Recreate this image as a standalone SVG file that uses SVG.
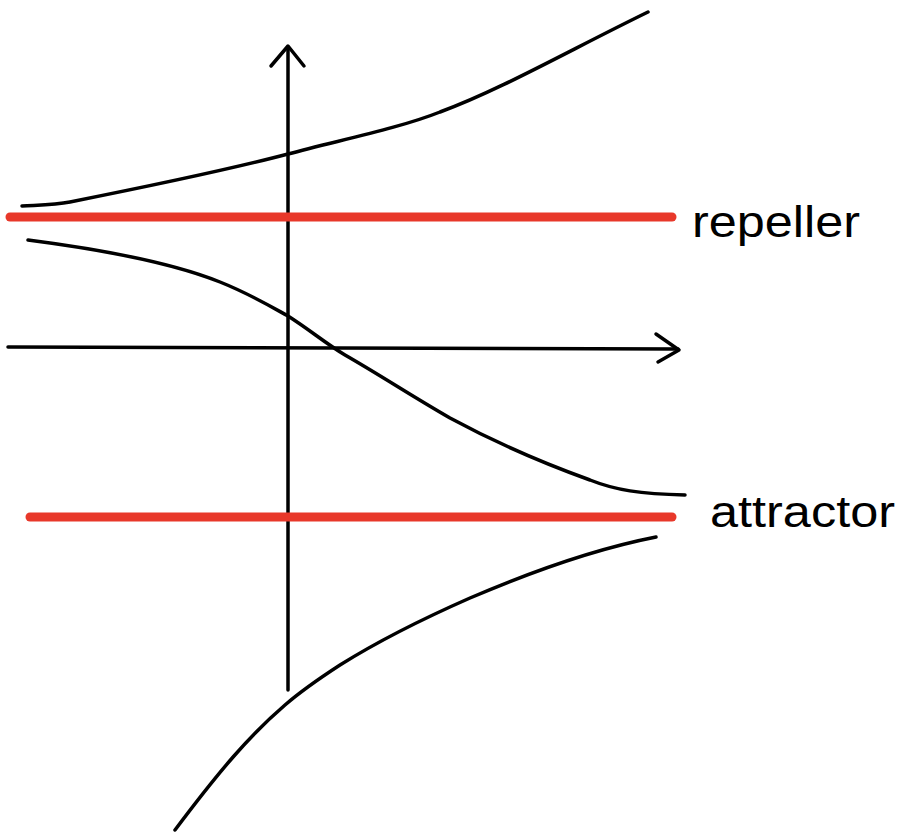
<svg xmlns="http://www.w3.org/2000/svg" width="900" height="839" viewBox="0 0 900 839">
<style>
.ink{fill:none;stroke:#000;stroke-width:3.5;stroke-linecap:round;stroke-linejoin:round}
.red{fill:none;stroke:#e8382a;stroke-width:9;stroke-linecap:round}
.lbl{font-family:"Liberation Sans","DejaVu Sans",sans-serif;font-size:44px;fill:#000}
</style>
<rect width="900" height="839" fill="#fff"/>
<g id="axes">
<path class="ink" d="M288,48 L288,690"/>
<path class="ink" d="M271,66 L288,46 L304,66"/>
<path class="ink" d="M8,347 L678,349"/>
<path class="ink" d="M656,334 L679,350 L658,362"/>
</g>
<g id="repeller">
<path class="red" d="M10,217 L672,217"/>
<text class="lbl" x="692" y="237" textLength="168" lengthAdjust="spacingAndGlyphs">repeller</text>
</g>
<g id="attractor">
<path class="red" d="M30,517 L672,517"/>
<text class="lbl" x="710" y="527" textLength="185" lengthAdjust="spacingAndGlyphs">attractor</text>
</g>
<g id="connectors">
<path class="ink" d="M22,206 C40,205 55,205 70,202 C140,188 220,172 288,154 C340,140 400,128 440,112 C500,90 570,50 648,12"/>
<path class="ink" d="M28,240 C90,248 170,262 220,282 C250,294 270,306 288,316 C310,330 325,343 345,355 C380,375 410,395 450,418 C500,445 540,462 590,480 C615,490 640,494 685,495"/>
<path class="ink" d="M656,537 C600,548 540,568 470,598 C420,620 380,640 340,665 C320,678 300,692 285,705 C250,735 220,770 175,830"/>
</g>
</svg>
